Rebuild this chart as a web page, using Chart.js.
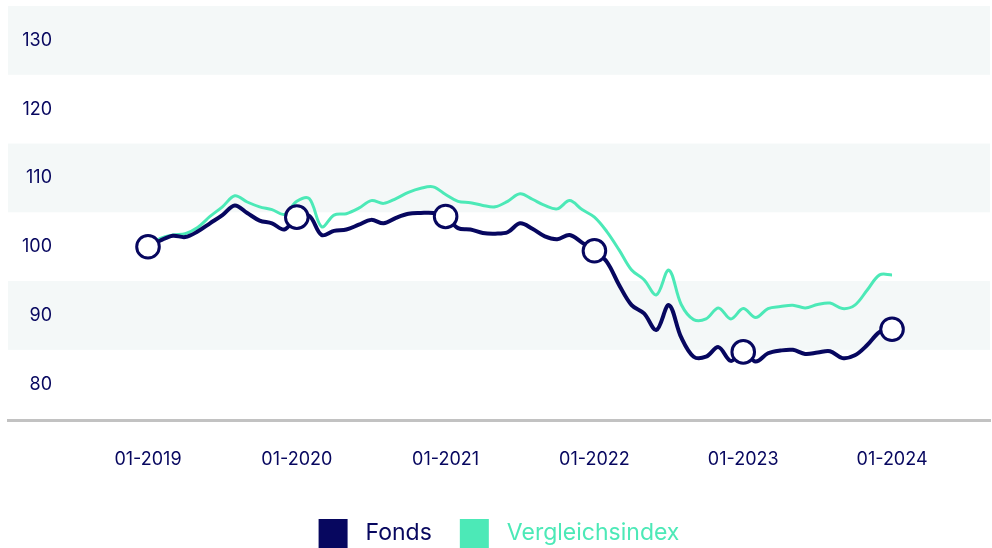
<!DOCTYPE html>
<html>
<head>
<meta charset="utf-8">
<script src="https://cdn.jsdelivr.net/npm/chart.js@4.4.0/dist/chart.umd.min.js"></script>
<style>
    html, body { margin: 0; padding: 0; background: #fff; overflow: hidden; }
    #caixa { width: 992px; height: 548px; position: relative; }
</style>
</head>
<body>
<div id="caixa"><canvas id="grafico1"></canvas></div>
<script>
// meses a partir de 01-2019 (0 = jan 2019)
const meses = Array.from({ length: 61 }, (_, i) => i);

const fonds = [
    100.0, 100.9, 101.6, 101.4, 102.2, 103.4, 104.6, 106.0, 104.9, 103.8, 103.4, 102.5,
    104.3, 104.5, 101.7, 102.3, 102.5, 103.2, 103.9, 103.4, 104.2, 104.8, 104.9, 104.9,
    104.4, 102.7, 102.5, 102.0, 101.9, 102.1, 103.4, 102.6, 101.5, 101.1, 101.7, 100.6,
    99.4, 97.8, 94.4, 91.5, 90.3, 87.9, 91.5, 86.8, 84.0, 84.0, 85.4, 83.4,
    84.7, 83.3, 84.5, 84.9, 85.0, 84.4, 84.6, 84.8, 83.8, 84.2, 85.7, 87.6,
    88.0
];

const vergleichsindex = [
    100.0, 101.2, 101.7, 101.9, 102.8, 104.4, 105.8, 107.4, 106.5, 105.8, 105.4, 104.7,
    106.6, 107.0, 102.9, 104.6, 104.8, 105.6, 106.7, 106.3, 107.0, 107.9, 108.5, 108.7,
    107.6, 106.6, 106.4, 106.0, 105.8, 106.6, 107.7, 106.9, 106.0, 105.5, 106.7, 105.4,
    104.3, 102.2, 99.5, 96.6, 95.2, 93.0, 96.6, 91.6, 89.4, 89.5, 91.1, 89.5,
    91.0, 89.7, 91.0, 91.3, 91.5, 91.1, 91.6, 91.8, 91.0, 91.5, 93.7, 95.9,
    95.9
];

const ticksX = [0, 12, 24, 36, 48, 60];
const rotulosX = ['01-2019', '01-2020', '01-2021', '01-2022', '01-2023', '01-2024'];
const ticksY = [80, 90, 100, 110, 120, 130];
const faixasY = [[85, 95], [105, 115], [125, 135]];

const azul = '#07075f';
const verde = '#4ce9b7';

Chart.defaults.font.family = 'Inter';

const faixas = {
    id: 'faixas',
    beforeDraw(chart) {
        const { ctx, chartArea, scales: { y } } = chart;
        ctx.save();
        ctx.fillStyle = '#f4f8f8';
        for (const [a, b] of faixasY) {
            const topo = y.getPixelForValue(b);
            const base = y.getPixelForValue(a);
            ctx.fillRect(chartArea.left, topo, chartArea.right - chartArea.left, base - topo);
        }
        ctx.restore();
    }
};

const ctx = document.getElementById('grafico1').getContext('2d');

new Chart(ctx, {
    type: 'line',
    data: {
        datasets: [
            {
                label: 'Fonds',
                data: meses.map((m, i) => ({ x: m, y: fonds[i] })),
                borderColor: azul,
                backgroundColor: azul,
                borderWidth: 4,
                tension: 0.35,
                pointRadius: c => ticksX.includes(c.raw && c.raw.x) ? 11.3 : 0,
                pointBackgroundColor: '#ffffff',
                pointBorderColor: azul,
                pointBorderWidth: 3,
                fill: false
            },
            {
                label: 'Vergleichsindex',
                data: meses.map((m, i) => ({ x: m, y: vergleichsindex[i] })),
                borderColor: verde,
                backgroundColor: verde,
                borderWidth: 3,
                tension: 0.35,
                pointRadius: 0,
                fill: false
            }
        ]
    },
    options: {
        responsive: true,
        maintainAspectRatio: false,
        animation: false,
        layout: { autoPadding: false, padding: { left: 8, right: 2, top: 6, bottom: -10 } },
        scales: {
            x: {
                type: 'linear',
                min: -11.29,
                max: 67.9,
                afterBuildTicks: s => { s.ticks = ticksX.map(v => ({ value: v })); },
                afterFit: s => { s.height = 71; s.paddingLeft = 0; s.paddingRight = 0; },
                grid: { display: false, drawTicks: false },
                border: { display: true, color: '#c2c2c2', width: 3 },
                ticks: {
                    padding: 29,
                    color: azul,
                    font: { size: 18 },
                    maxRotation: 0,
                    callback: (v) => rotulosX[ticksX.indexOf(v)]
                }
            },
            y: {
                min: 74.8,
                max: 135,
                afterBuildTicks: s => { s.ticks = ticksY.map(v => ({ value: v })); },
                afterFit: s => { s.width = 0; s.paddingTop = 0; s.paddingBottom = 0; },
                grid: { display: false, drawTicks: false },
                border: { display: false },
                ticks: {
                    mirror: true,
                    crossAlign: 'far',
                    padding: 14,
                    color: azul,
                    font: { size: 18 }
                }
            }
        },
        plugins: {
            tooltip: { enabled: false },
            legend: {
                position: 'bottom',
                labels: {
                    boxWidth: 29,
                    boxHeight: 29,
                    padding: 28,
                    font: { size: 23 },
                    generateLabels: chart => chart.data.datasets.map((d, i) => ({
                        text: ' ' + d.label,
                        fillStyle: d.borderColor,
                        strokeStyle: d.borderColor,
                        fontColor: d.borderColor,
                        lineWidth: 0,
                        hidden: false,
                        datasetIndex: i
                    }))
                }
            }
        }
    },
    plugins: [faixas]
});
</script>
</body>
</html>
